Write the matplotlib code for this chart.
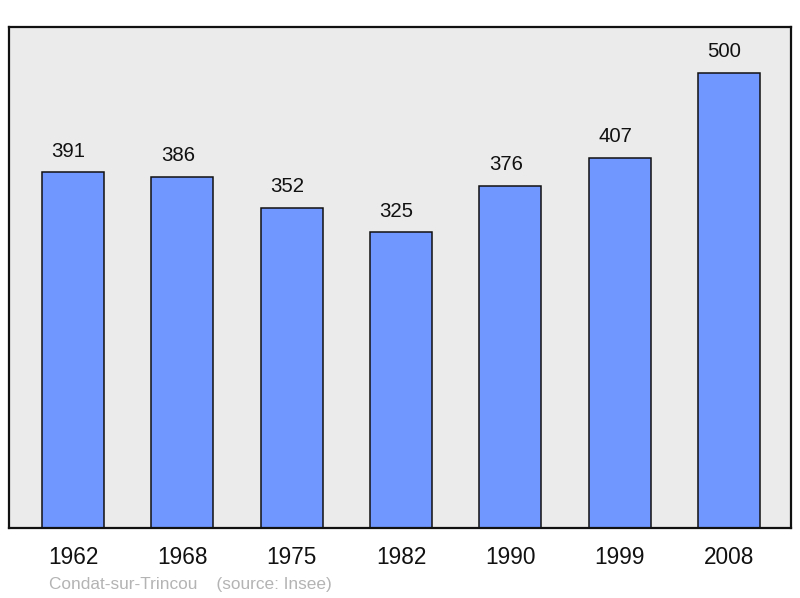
import matplotlib
matplotlib.use("Agg")
import matplotlib.pyplot as plt

years = ["1962", "1968", "1975", "1982", "1990", "1999", "2008"]
population = [391, 386, 352, 325, 376, 407, 500]
footer = "Condat-sur-Trincou    (source: Insee)"

plt.rcParams['font.family'] = ['Liberation Sans', 'DejaVu Sans']

fig = plt.figure(figsize=(8, 5.98), dpi=100)
ax = fig.add_axes([9/800, 70/598, 782/800, 501/598])
ax.set_facecolor("#EBEBEB")

x = list(range(len(years)))
ax.bar(x, population, width=0.567, color="#7097FF", edgecolor="#111111", linewidth=1.1, zorder=2)
for xi, v in zip(x, population):
    ax.annotate(str(v), (xi, v), xytext=(-3.2, 15.2), textcoords="offset points",
                ha="center", va="center", fontsize=14.7, color="#111111")

ax.set_xlim(-0.585, 6.567)
ax.set_ylim(0, 550.5)
ax.set_xticks(x)
ax.set_xticklabels(years, fontsize=16.3, color="#111111")
ax.tick_params(axis="x", length=0, pad=13)
ax.set_yticks([])
for s in ax.spines.values():
    s.set_linewidth(1.6)
    s.set_color("#111111")

fig.text(49/800, 1 - 584/598, footer, fontsize=12.4, color="#B4B4B4", ha="left", va="center")

fig.savefig("out.png", dpi=100)
